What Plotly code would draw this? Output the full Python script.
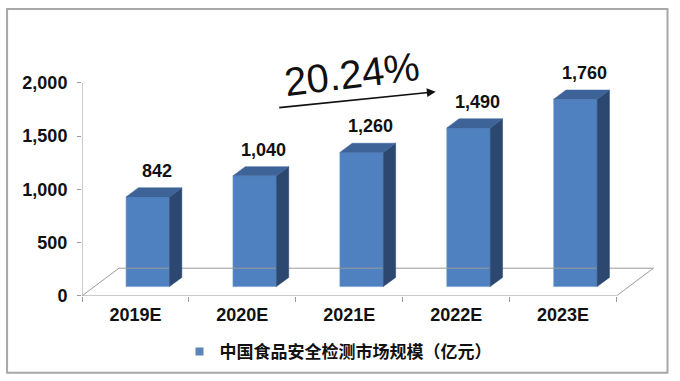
import plotly.graph_objects as go

# ---------------- data ----------------
categories = ["2019E", "2020E", "2021E", "2022E", "2023E"]
values = [842, 1040, 1260, 1490, 1760]
value_labels = ["842", "1,040", "1,260", "1,490", "1,760"]
y_ticks = [0, 500, 1000, 1500, 2000]
y_tick_labels = ["0", "500", "1,000", "1,500", "2,000"]
series_name = "中国食品安全检测市场规模（亿元）"
cagr_label = "20.24%"

# ---------------- geometry / style ----------------
W, H = 680, 381
L, R, T, B = 82, 9.5, 40, 84.3
plot_w, plot_h = W - L - R, H - T - B
px_per_y = 0.10685
ymax = plot_h / px_per_y
xmin, xmax = -0.5, 5.0
px_per_x = plot_w / (xmax - xmin)

depth_x = 37 / px_per_x          # floor depth in x units
depth_y = 27.7 / px_per_y        # floor depth in y units
ox, oy = depth_x / 3, depth_y / 3  # bar front face offset
bdx, bdy = depth_x / 3, depth_y / 3  # bar depth
bw = 43.5 / px_per_x

FRONT = "#4f80bf"
SIDE = "#2c4770"
TOP = "#3d6398"
GRID = "#9a9a9a"
FONT = "Liberation Sans, Arial, sans-serif"


def pxx(px):
    return (px - L) / plot_w


def pxy(py):
    return (H - B - py) / plot_h


n = len(categories)
idx = list(range(n))

fig = go.Figure()

# floor (3D base plane)
x0, x1 = -0.5, n - 0.5
fig.add_trace(go.Scatter(
    x=[x0, x1, x1 + depth_x, x0 + depth_x, x0],
    y=[0, 0, depth_y, depth_y, 0],
    mode="lines", line=dict(color=GRID, width=1),
    hoverinfo="skip", showlegend=False))
# y axis line
fig.add_trace(go.Scatter(
    x=[x0, x0], y=[0, y_ticks[-1]], mode="lines",
    line=dict(color=GRID, width=1), hoverinfo="skip", showlegend=False))

# side faces & top faces
sx, sy, tx, ty = [], [], [], []
for i, v in zip(idx, values):
    xl = i + ox - bw / 2
    xr = i + ox + bw / 2
    sx += [xr, xr + bdx, xr + bdx, xr, xr, None]
    sy += [oy, oy + bdy, oy + bdy + v, oy + v, oy, None]
    tx += [xl, xr, xr + bdx, xl + bdx, xl, None]
    ty += [oy + v, oy + v, oy + v + bdy, oy + v + bdy, oy + v, None]
fig.add_trace(go.Scatter(x=sx, y=sy, fill="toself", fillcolor=SIDE, mode="lines",
                         line=dict(color=SIDE, width=0.5), hoverinfo="skip", showlegend=False))
fig.add_trace(go.Scatter(x=tx, y=ty, fill="toself", fillcolor=TOP, mode="lines",
                         line=dict(color=TOP, width=0.5), hoverinfo="skip", showlegend=False))

# front faces
fig.add_trace(go.Bar(
    x=idx, y=values, base=[oy] * n, width=bw, offset=ox - bw / 2,
    marker=dict(color=FRONT, line=dict(color="#6f9ad0", width=0.6)),
    name=series_name, showlegend=False))

# legend entry
fig.add_trace(go.Scatter(x=[None], y=[None], mode="markers",
                         marker=dict(symbol="square", size=8, color="#5b84b8"),
                         name=series_name, showlegend=True))

# data labels
for i, v, lab in zip(idx, values, value_labels):
    fig.add_annotation(x=i + ox + bdx / 2, y=oy + v + bdy, text=lab, showarrow=False,
                       xshift=3, yshift=5, yanchor="bottom",
                       font=dict(family=FONT, size=18, color="#111111", weight="bold"))

# CAGR text + arrow
fig.add_annotation(xref="paper", yref="paper", x=pxx(352), y=pxy(74),
                   xanchor="center", yanchor="middle",
                   text=cagr_label, showarrow=False, textangle=-7,
                   font=dict(family=FONT, size=40, color="#111111"))
fig.add_annotation(xref="paper", yref="paper", x=pxx(436), y=pxy(92),
                   ax=278 - 436, ay=108 - 92, axref="pixel", ayref="pixel",
                   text="", showarrow=True, arrowhead=2, arrowsize=1.1,
                   arrowwidth=1.6, arrowcolor="#111111")

# outer frame
fig.add_shape(type="rect", xref="paper", yref="paper",
              x0=pxx(7), x1=pxx(668), y0=pxy(374), y1=pxy(9),
              line=dict(color="#a8a8a8", width=2), fillcolor="rgba(0,0,0,0)", layer="below")

fig.update_layout(
    width=W, height=H,
    margin=dict(l=L, r=R, t=T, b=B, pad=0),
    paper_bgcolor="white", plot_bgcolor="white",
    showlegend=True,
    legend=dict(orientation="h", xref="container", yref="container",
                x=338 / W, xanchor="center", y=1 - 352 / H, yanchor="middle",
                font=dict(family="Noto Sans CJK SC", size=17, color="#111111", weight="bold"),
                itemwidth=30, bgcolor="rgba(0,0,0,0)"),
    xaxis=dict(range=[xmin, xmax], tickvals=idx, ticktext=categories,
               showgrid=False, zeroline=False, showline=False, ticks="",
               ticklabelstandoff=6,
               minor=dict(tickvals=[i - 0.5 for i in range(n + 1)], ticks="outside",
                          ticklen=5, tickcolor=GRID, showgrid=False),
               tickfont=dict(family=FONT, size=18, color="#111111", weight="bold")),
    yaxis=dict(range=[0, ymax], tickvals=y_ticks, ticktext=y_tick_labels,
               showgrid=False, zeroline=False, showline=False,
               ticks="outside", ticklen=4, tickcolor=GRID, ticklabelstandoff=6,
               tickfont=dict(family=FONT, size=18, color="#111111", weight="bold")),
)

fig.write_html("out.html")
